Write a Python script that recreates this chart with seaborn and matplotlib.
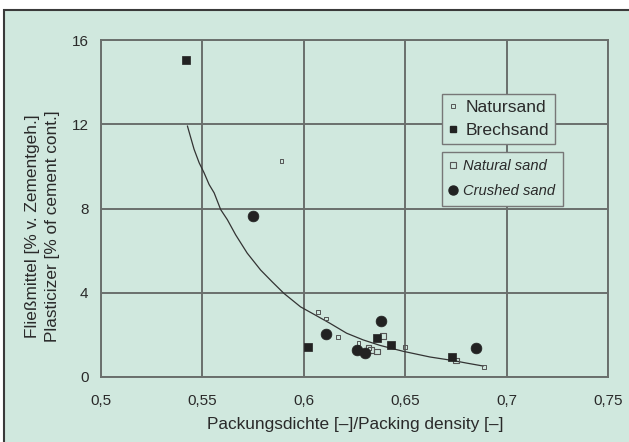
import matplotlib
matplotlib.use("Agg")
import matplotlib.pyplot as plt
from matplotlib.lines import Line2D
from matplotlib.patches import Rectangle
from matplotlib.ticker import FuncFormatter
import seaborn as sns
import pandas as pd

# ---- data ----
natursand_x = [0.589, 0.607, 0.611, 0.617, 0.627, 0.650, 0.689]
natursand_y = [10.24, 3.09, 2.78, 1.90, 1.60, 1.41, 0.48]

natural_sand_x = [0.632, 0.633, 0.636, 0.639, 0.675]
natural_sand_y = [1.40, 1.29, 1.22, 1.94, 0.79]

brechsand_x = [0.542, 0.602, 0.636, 0.643, 0.673]
brechsand_y = [15.05, 1.42, 1.87, 1.52, 0.96]

crushed_sand_x = [0.575, 0.611, 0.626, 0.630, 0.638, 0.685]
crushed_sand_y = [7.65, 2.02, 1.27, 1.12, 2.68, 1.37]

curve_x = [0.5426, 0.5459, 0.5484, 0.5508, 0.5533, 0.5558, 0.5590, 0.5623, 0.5664,
           0.5721, 0.5787, 0.5844, 0.5902, 0.5984, 0.6055, 0.6129, 0.6211, 0.6293,
           0.6376, 0.6490, 0.6622, 0.6737, 0.6803, 0.6885]
curve_y = [11.92, 10.81, 10.17, 9.70, 9.14, 8.74, 7.95, 7.47, 6.75,
           5.88, 5.08, 4.52, 3.97, 3.33, 2.95, 2.55, 2.08, 1.76,
           1.50, 1.22, 0.95, 0.78, 0.66, 0.52]

x_ticks = [0.5, 0.55, 0.6, 0.65, 0.7, 0.75]
y_ticks = [0, 4, 8, 12, 16]

BG = "#d0e8de"
GRID = "#6a6f6c"
TXT = "#2a2a2a"
DARK = "#222222"

sns.set_theme(style="white")
plt.rcParams["font.family"] = ["Liberation Sans", "DejaVu Sans"]

fig = plt.figure(figsize=(6.29, 4.42), dpi=100)
fig.patch.set_facecolor("white")
fig.patches.append(Rectangle((4 / 629, -0.05), 1.1, 1 - 9.5 / 442 + 0.05,
                             transform=fig.transFigure, facecolor=BG,
                             edgecolor="#3a3a3a", linewidth=1.5, zorder=-5))

AX_H = 337
ax = fig.add_axes([101 / 629, 1 - 377 / 442, 507 / 629, AX_H / 442])
ax.set_zorder(2)
ax.set_facecolor(BG)

sns.lineplot(x=curve_x, y=curve_y, sort=False, estimator=None, ax=ax,
             color="#333333", linewidth=0.9, zorder=3)

sns.scatterplot(x=natursand_x, y=natursand_y, ax=ax, marker="s", s=7,
                facecolor="none", edgecolor="#555555", linewidth=0.7, zorder=4)
sns.scatterplot(x=natural_sand_x, y=natural_sand_y, ax=ax, marker="s", s=16,
                facecolor="none", edgecolor="#555555", linewidth=0.8, zorder=4)
sns.scatterplot(x=brechsand_x, y=brechsand_y, ax=ax, marker="s", s=38,
                color=DARK, edgecolor=DARK, linewidth=0.5, zorder=5)
sns.scatterplot(x=crushed_sand_x, y=crushed_sand_y, ax=ax, marker="o", s=60,
                color=DARK, edgecolor=DARK, linewidth=0.5, zorder=5)

ax.set_xlim(0.5, 0.75)
ax.set_ylim(0, 16)
ax.set_xticks(x_ticks)
ax.set_yticks(y_ticks)
ax.xaxis.set_major_formatter(FuncFormatter(lambda v, p: f"{v:g}".replace(".", ",")))
ax.yaxis.set_major_formatter(FuncFormatter(lambda v, p: f"{v:g}"))
ax.grid(True, color=GRID, linewidth=1.4)
ax.set_axisbelow(True)
for s in ax.spines.values():
    s.set_color(GRID)
    s.set_linewidth(1.4)
ax.tick_params(axis="both", length=0, labelsize=11, colors=TXT)
ax.tick_params(axis="x", pad=12)
ax.tick_params(axis="y", pad=9)
ax.set_xlabel("")
ax.set_ylabel("")

fig.text(355 / 629, 1 - 424 / 442, "Packungsdichte [–]/Packing density [–]",
         ha="center", va="center", fontsize=12.4, color=TXT)
fig.text(33 / 629, 1 - 226 / 442, "Fließmittel [% v. Zementgeh.]", rotation=90,
         ha="center", va="center", fontsize=12.4, color=TXT)
fig.text(53 / 629, 1 - 226 / 442, "Plasticizer [% of cement cont.]", rotation=90,
         ha="center", va="center", fontsize=12.4, color=TXT)

h1 = [Line2D([], [], linestyle="none", marker="s", markersize=2.2, markerfacecolor="none",
             markeredgecolor="#555555", markeredgewidth=0.7),
      Line2D([], [], linestyle="none", marker="s", markersize=5, color=DARK)]
leg1 = ax.legend(h1, ["Natursand", "Brechsand"], loc="upper left",
                 bbox_to_anchor=((442 - 101) / 507, (377 - 94) / AX_H),
                 frameon=True, fancybox=False, facecolor=BG, edgecolor="#777777",
                 framealpha=1, fontsize=12.6, handlelength=0.5, handletextpad=0.5,
                 borderpad=0.35, labelspacing=0.4, borderaxespad=0)
leg1.get_frame().set_linewidth(1.0)
for t in leg1.get_texts():
    t.set_color(TXT)
ax.add_artist(leg1)

h2 = [Line2D([], [], linestyle="none", marker="s", markersize=4.5, markerfacecolor="none",
             markeredgecolor="#555555", markeredgewidth=0.8),
      Line2D([], [], linestyle="none", marker="o", markersize=6.5, color=DARK)]
leg2 = ax.legend(h2, ["Natural sand", "Crushed sand"], loc="upper left",
                 bbox_to_anchor=((442 - 101) / 507, (377 - 152) / AX_H),
                 frameon=True, fancybox=False, facecolor=BG, edgecolor="#777777",
                 framealpha=1, handlelength=0.5, handletextpad=0.45,
                 borderpad=0.5, labelspacing=0.75, borderaxespad=0,
                 prop={"family": ["Liberation Sans", "DejaVu Sans"],
                       "style": "italic", "size": 10.6})
leg2.get_frame().set_linewidth(1.0)
for t in leg2.get_texts():
    t.set_color(TXT)

fig.savefig("out.png", dpi=100)
